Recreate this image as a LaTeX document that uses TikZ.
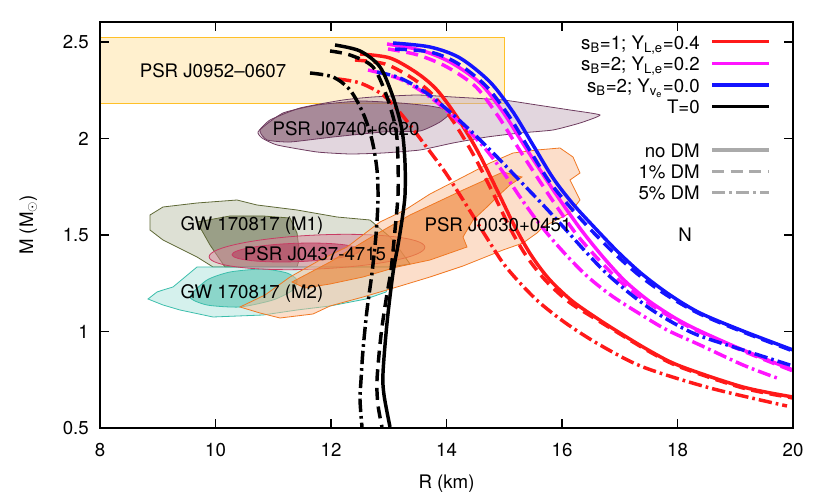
\documentclass[tikz,border=0pt]{standalone}
\usepackage{fontspec}
\setmainfont{TeX Gyre Heros}
\usepackage{amsmath}
\usetikzlibrary{calc}

\definecolor{cRed}{RGB}{255,25,25}
\definecolor{cMag}{RGB}{255,20,255}
\definecolor{cBlue}{RGB}{20,20,255}
\definecolor{cLeg}{RGB}{170,170,170}
% contour colours (drawn at half opacity)
\definecolor{fYel}{RGB}{255,226,158}
\definecolor{bYel}{RGB}{255,192,40}
\definecolor{fPurA}{RGB}{197,173,189}
\definecolor{fPurB}{RGB}{110,62,86}
\definecolor{bPur}{RGB}{110,60,95}
\definecolor{fOliA}{RGB}{187,193,169}
\definecolor{fOliB}{RGB}{89,96,58}
\definecolor{bOli}{RGB}{95,105,55}
\definecolor{fTeaA}{RGB}{171,227,219}
\definecolor{fTeaB}{RGB}{67,187,167}
\definecolor{bTea}{RGB}{60,190,172}
\definecolor{fPinA}{RGB}{215,135,155}
\definecolor{fPinB}{RGB}{185,45,85}
\definecolor{bPin}{RGB}{200,60,100}
\definecolor{fOraA}{RGB}{249,189,149}
\definecolor{fOraB}{RGB}{234,112,22}
\definecolor{bOra}{RGB}{240,120,35}

\tikzset{
    curve/.style={line width=2.6pt},
    onedm/.style={dash pattern=on 9pt off 5pt},
    fivedm/.style={dash pattern=on 10pt off 3pt on 2pt off 3pt},
    region/.style={fill opacity=0.5, line width=0.6pt},
    lab/.style={inner sep=0pt}
}

\begin{document}
\begin{tikzpicture}[x=0.75pt, y=-0.75pt, font=\fontsize{14}{16}\selectfont]

    \useasboundingbox (0,0) rectangle (830,498);

    \begin{scope}
        \clip (100,22) rectangle (793,428);

        % --- PSR J0952-0607 band ---
        \draw[region, fill=fYel, draw=bYel] (100,37.7) rectangle (504,103.3);

        % --- PSR J0740+6620 ---
        \draw[region, fill=fPurA, draw=bPur] plot[smooth cycle, tension=0.3] coordinates {
            (258,132) (270,120) (300,108) (343,100) (373,97) (417,95) (453,97) (503,100)
            (537,105) (570,110) (600,115) (580,123) (553,130) (520,133) (487,137) (453,143)
            (420,150) (383,153) (350,154) (317,152) (277,145) (262,138)};
        \draw[region, fill=fPurB, draw=bPur] plot[smooth cycle, tension=0.3] coordinates {
            (260,130) (283,113) (317,105) (360,101) (400,103) (430,106) (452,111) (440,122)
            (420,131) (383,132) (333,137) (290,142) (267,140)};

        % --- GW 170817 (M1) ---
        \draw[region, fill=fOliA, draw=bOli] plot[sharp cycle] coordinates {
            (150,230) (150,215) (163,207) (197,203) (237,200) (257,205) (297,210) (337,217)
            (370,220) (390,237) (400,250) (410,264) (390,267) (330,267) (263,267) (213,267)
            (197,257) (163,240)};
        \draw[region, fill=fOliB, draw=bOli] plot[sharp cycle] coordinates {
            (197,222) (230,216) (263,216) (290,218) (297,233) (300,257) (297,267) (225,267)
            (210,245)};

        % --- GW 170817 (M2) ---
        \draw[region, fill=fTeaA, draw=bTea] plot[sharp cycle] coordinates {
            (148,299) (157,292) (163,290) (173,287) (197,267) (263,267) (330,267) (392,267)
            (393,276) (386,292) (366,299) (330,306) (297,310) (263,315) (213,317) (180,310)
            (163,305)};
        \draw[region, fill=fTeaB, draw=bTea] plot[smooth cycle, tension=0.4] coordinates {
            (190,297) (207,280) (230,272) (263,269) (287,273) (297,280) (293,290) (273,300)
            (240,307) (207,305)};

        % --- PSR J0437-4715 ---
        \draw[region, fill=fPinA, draw=bPin, rotate around={2.6:(317,252)}]
            (317,252) ellipse [x radius=108, y radius=17];
        \draw[region, fill=fPinB, draw=bPin, rotate around={2:(296,252.5)}]
            (296,252.5) ellipse [x radius=64, y radius=9.2];

        % --- PSR J0030+0451 ---
        \draw[region, fill=fOraA, draw=bOra] plot[sharp cycle] coordinates {
            (240,307) (265,295) (290,277) (320,260) (347,247) (380,222) (405,210) (430,194)
            (463,177) (490,163) (513,153) (537,150) (560,148) (573,157) (580,173) (570,180)
            (580,200) (570,213) (543,227) (537,233) (523,243) (503,250) (463,266) (430,277)
            (397,287) (363,297) (330,306) (313,314) (280,318) (260,313)};
        \draw[region, fill=fOraB, draw=bOra] plot[sharp cycle] coordinates {
            (292,282) (330,262) (373,236) (410,215) (463,190) (503,172) (522,177) (510,185)
            (497,197) (487,207) (473,220) (463,237) (467,247) (430,260) (397,267) (363,277)
            (330,284) (305,288)};

        % --- M-R curves: red ---
        \draw[curve, cRed] plot[smooth] coordinates {
            (360,54) (390,58) (417,73) (437,90) (457,117) (477,150) (497,190) (515,227)
            (531,255) (549,279) (571,300) (595,317) (620,333) (650,351) (680,366) (743,387)
            (793,397)};
        \draw[curve, cRed, onedm] plot[smooth] coordinates {
            (355,60) (385,64) (412,78) (433,95) (453,121) (473,154) (493,193) (511,230)
            (527,257) (546,281) (569,302) (594,318) (620,334) (650,352) (680,367) (743,388)
            (793,398)};
        \draw[curve, cRed, fivedm] plot[smooth] coordinates {
            (338,79) (360,83) (383,95) (402,115) (425,145) (445,172) (465,203) (485,235)
            (503,263) (520,283) (540,303) (567,324) (600,345) (643,367) (710,388) (787,406)};

        % --- magenta ---
        \draw[curve, cMag] plot[smooth] coordinates {
            (387,44) (420,50) (450,62) (480,83) (503,112) (522,142) (542,173) (562,203)
            (582,231) (603,257) (625,281) (649,301) (675,318) (700,331) (743,350) (793,370)};
        \draw[curve, cMag, onedm] plot[smooth] coordinates {
            (388,49) (418,55) (447,67) (476,87) (498,116) (517,146) (537,177) (557,207)
            (577,235) (599,260) (622,283) (647,302) (674,319) (700,332) (743,351) (793,371)};
        \draw[curve, cMag, fivedm] plot[smooth] coordinates {
            (368,70) (400,79) (430,97) (458,121) (483,146) (503,172) (520,197) (535,218)
            (551,238) (568,257) (588,277) (612,296) (640,314) (667,330) (700,345) (743,365)
            (777,378)};

        % --- blue ---
        \draw[curve, cBlue] plot[smooth] coordinates {
            (393,43) (430,47) (460,58) (490,82) (513,112) (533,145) (553,178) (573,204)
            (595,228) (618,252) (642,274) (670,295) (700,313) (743,331) (793,350)};
        \draw[curve, cBlue, onedm] plot[smooth] coordinates {
            (395,49) (430,52) (457,63) (486,86) (509,116) (529,149) (549,181) (570,207)
            (592,231) (615,254) (640,276) (668,296) (700,314) (743,332) (793,351)};
        \draw[curve, cBlue, fivedm] plot[smooth] coordinates {
            (377,72) (400,78) (425,92) (450,112) (475,135) (500,160) (522,183) (545,207)
            (567,231) (585,251) (605,272) (628,292) (652,310) (677,325) (700,336) (743,350)
            (793,366)};

        % --- black (T=0) ---
        \draw[curve] plot[smooth] coordinates {
            (335,45) (360,51) (380,67) (393,97) (402,130) (405,163) (405,195) (402,220)
            (398,245) (393,273) (387,323) (383,373) (384,395) (390,427)};
        \draw[curve, onedm] plot[smooth] coordinates {
            (330,51) (350,55) (373,67) (387,97) (396,130) (398,163) (398,195) (395,230)
            (391,270) (386,300) (381,335) (377,380) (378,405) (382,427)};
        \draw[curve, fivedm] plot[smooth] coordinates {
            (310,73) (333,77) (350,90) (363,113) (372,140) (377,170) (378,200) (376,235)
            (372,273) (367,310) (363,350) (361,380) (360,400) (362,427)};
    \end{scope}

    % --- region labels ---
    \node[lab] (j0952) at (213,71) {PSR J0952--0607};
    \node[lab] (j0740) at (346,129) {PSR J0740+6620};
    \node[lab] (gwmone) at (252,226) {GW 170817 (M1)};
    \node[lab] (j0437) at (315,254) {PSR J0437-4715};
    \node[lab] (gwmtwo) at (252,294) {GW 170817 (M2)};
    \node[lab] (j0030) at (498,225) {PSR J0030+0451};
    \node[lab] (nlab) at (685,235) {N};

    % --- frame and ticks ---
    \draw[line width=1pt] (100,22) rectangle (793,428);
    \foreach \r in {8,10,...,20} {
        \pgfmathsetmacro{\px}{100+57.75*(\r-8)}
        \draw[line width=0.8pt] (\px,428) -- (\px,419);
        \draw[line width=0.8pt] (\px,22) -- (\px,31);
        \node[lab] (xt\r) at (\px,450) {\r};
    }
    \foreach \m/\mm in {0.5/0.5, 1/1, 1.5/1.5, 2/2, 2.5/2.5} {
        \pgfmathsetmacro{\py}{428-193*(\m-0.5)}
        \draw[line width=0.8pt] (100,\py) -- (109,\py);
        \draw[line width=0.8pt] (793,\py) -- (784,\py);
        \node[lab, anchor=east] (yt\m) at (89,\py) {\mm};
    }
    \node[lab, anchor=base] (xlabel) at (446.5,488) {R (km)};
    \node[lab, anchor=base, rotate=90] (ylabel) at (33,225) {M (M$_\odot$)};

    % --- legend ---
    \node[lab, anchor=base east] (lgone) at (700,49.3) {s\textsubscript{B}=1; Y\textsubscript{L,e}=0.4};
    \node[lab, anchor=base east] (lgtwo) at (700,71) {s\textsubscript{B}=2; Y\textsubscript{L,e}=0.2};
    \node[lab, anchor=base east] (lgthree) at (700,92.7) {s\textsubscript{B}=2; Y\textsubscript{v\textsubscript{e}}=0.0};
    \node[lab, anchor=base east] (lgfour) at (700,114) {T=0};
    \node[lab, anchor=base east] (lgfive) at (700,157.3) {no DM};
    \node[lab, anchor=base east] (lgsix) at (700,179) {1\% DM};
    \node[lab, anchor=base east] (lgseven) at (700,200) {5\% DM};
    \draw[curve, cRed] (712,41.7) -- (769,41.7);
    \draw[curve, cMag] (712,63.3) -- (769,63.3);
    \draw[curve, cBlue] (712,85) -- (769,85);
    \draw[curve] (712,106.7) -- (769,106.7);
    \draw[curve, cLeg] (712,150) -- (769,150);
    \draw[curve, cLeg, onedm] (712,171.7) -- (769,171.7);
    \draw[curve, cLeg, fivedm] (712,192.7) -- (769,192.7);

\end{tikzpicture}
\end{document}
